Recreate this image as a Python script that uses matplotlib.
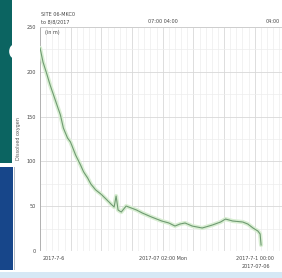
import numpy as np
import matplotlib
matplotlib.use("Agg")
import matplotlib.pyplot as plt
from matplotlib.patches import Rectangle, Ellipse

# readings (x = position along record, y = value)
hours = [0, 1.2, 2.5, 4.1, 6.2, 8.3, 9.5, 11.2, 12.4, 14.5, 16.5, 17.8, 19.4, 20.7,
         22.7, 24.8, 26.9, 28.9, 30.2, 31.0, 31.8, 33.1, 35.1, 37.2, 39.3, 41.7,
         45.5, 49.6, 52.5, 55.0, 57.0, 59.1, 62.0, 66.1, 70.2, 73.6, 75.6, 78.5,
         82.6, 84.7, 86.8, 88.8, 89.7, 90.1]
level = [226.6, 210.9, 199.8, 185.3, 168.5, 151.8, 137.3, 126.1, 121.7, 107.1, 96.0,
         88.1, 81.5, 74.8, 68.1, 63.6, 58.0, 52.5, 49.1, 61.4, 45.8, 43.5, 50.2, 48.0,
         45.8, 42.4, 37.9, 33.5, 31.3, 27.9, 30.1, 31.3, 27.9, 25.7, 29.0, 32.4, 35.7,
         33.5, 32.4, 30.1, 25.7, 22.3, 19.0, 6.7]

ytick_vals = [0, 50, 100, 150, 200, 250]
ytick_labels = ["0", "50", "100", "150", "200", "250"]
top_labels = ["07:00 04:00", "04:00"]
bottom_labels = ["2017-7-6", "2017-07 02:00 Mon", "2017-7-1 00:00"]

fig = plt.figure(figsize=(2.82, 2.78), dpi=100)
fig.patch.set_facecolor("white")

# left side decoration (teal panel + blue strip)
fig.patches.append(Rectangle((0, 0.415), 0.044, 0.585, transform=fig.transFigure,
                             facecolor="#0b6461", edgecolor="none"))
fig.patches.append(Ellipse((0.05, 0.815), 0.035, 0.05, transform=fig.transFigure,
                           facecolor="white", edgecolor="none"))
fig.patches.append(Rectangle((0, 0.03), 0.046, 0.37, transform=fig.transFigure,
                             facecolor="#17468a", edgecolor="none"))
fig.patches.append(Rectangle((0.048, 0.03), 0.004, 0.37, transform=fig.transFigure,
                             facecolor="#b5bcc5", edgecolor="none"))
fig.patches.append(Rectangle((0, 0), 1, 0.022, transform=fig.transFigure,
                             facecolor="#d6e8f5", edgecolor="none"))

ax = fig.add_axes([0.142, 0.097, 0.87, 0.806])
ax.set_xlim(0, 100)
ax.set_ylim(0, 250)

ax.set_xticks(np.arange(0, 101, 12.5))
ax.set_xticks(np.arange(0, 101, 2.5), minor=True)
ax.set_yticks(ytick_vals)
ax.set_yticks(np.arange(0, 251, 25), minor=True)
ax.set_yticklabels(ytick_labels, fontsize=3.5, color="#444444")
ax.set_xticklabels([])
ax.tick_params(which="both", length=0, pad=3)
ax.grid(which="major", color="#d8d8d8", lw=0.6)
ax.grid(which="minor", color="#ededed", lw=0.5)
for s in ax.spines.values():
    s.set_visible(False)
ax.axvline(0, color="#aaaaaa", lw=0.6)
ax.axhline(250, color="#cccccc", lw=0.6)

ax.plot(hours, level, color="#d8eed2", lw=3.0, solid_capstyle="round")
ax.plot(hours, level, color="#6f9a72", lw=0.8)

ax.set_ylabel("Dissolved oxygen", fontsize=3.5, color="#555555", labelpad=4)

ax.text(0.005, 1.012, "SITE 06-MKC0\nto 8/8/2017", transform=ax.transAxes,
        fontsize=3.5, va="bottom", ha="left", color="#444444", linespacing=1.6)
ax.text(0.02, 0.985, "(in m)", transform=ax.transAxes, fontsize=3.5, va="top",
        ha="left", color="#444444")
ax.text(0.5, 1.012, top_labels[0], transform=ax.transAxes, fontsize=3.5,
        va="bottom", ha="center", color="#444444")
ax.text(0.92, 1.012, top_labels[1], transform=ax.transAxes, fontsize=3.5,
        va="bottom", ha="left", color="#444444")

ax.text(0.01, -0.02, bottom_labels[0], transform=ax.transAxes, fontsize=3.5,
        va="top", ha="left", color="#444444")
ax.text(0.5, -0.02, bottom_labels[1], transform=ax.transAxes, fontsize=3.5,
        va="top", ha="center", color="#444444")
ax.text(0.8, -0.02, bottom_labels[2], transform=ax.transAxes, fontsize=3.5,
        va="top", ha="left", color="#444444")
ax.text(0.82, -0.06, "2017-07-06", transform=ax.transAxes, fontsize=3.5,
        va="top", ha="left", color="#444444")

fig.savefig("out.png", dpi=100)
